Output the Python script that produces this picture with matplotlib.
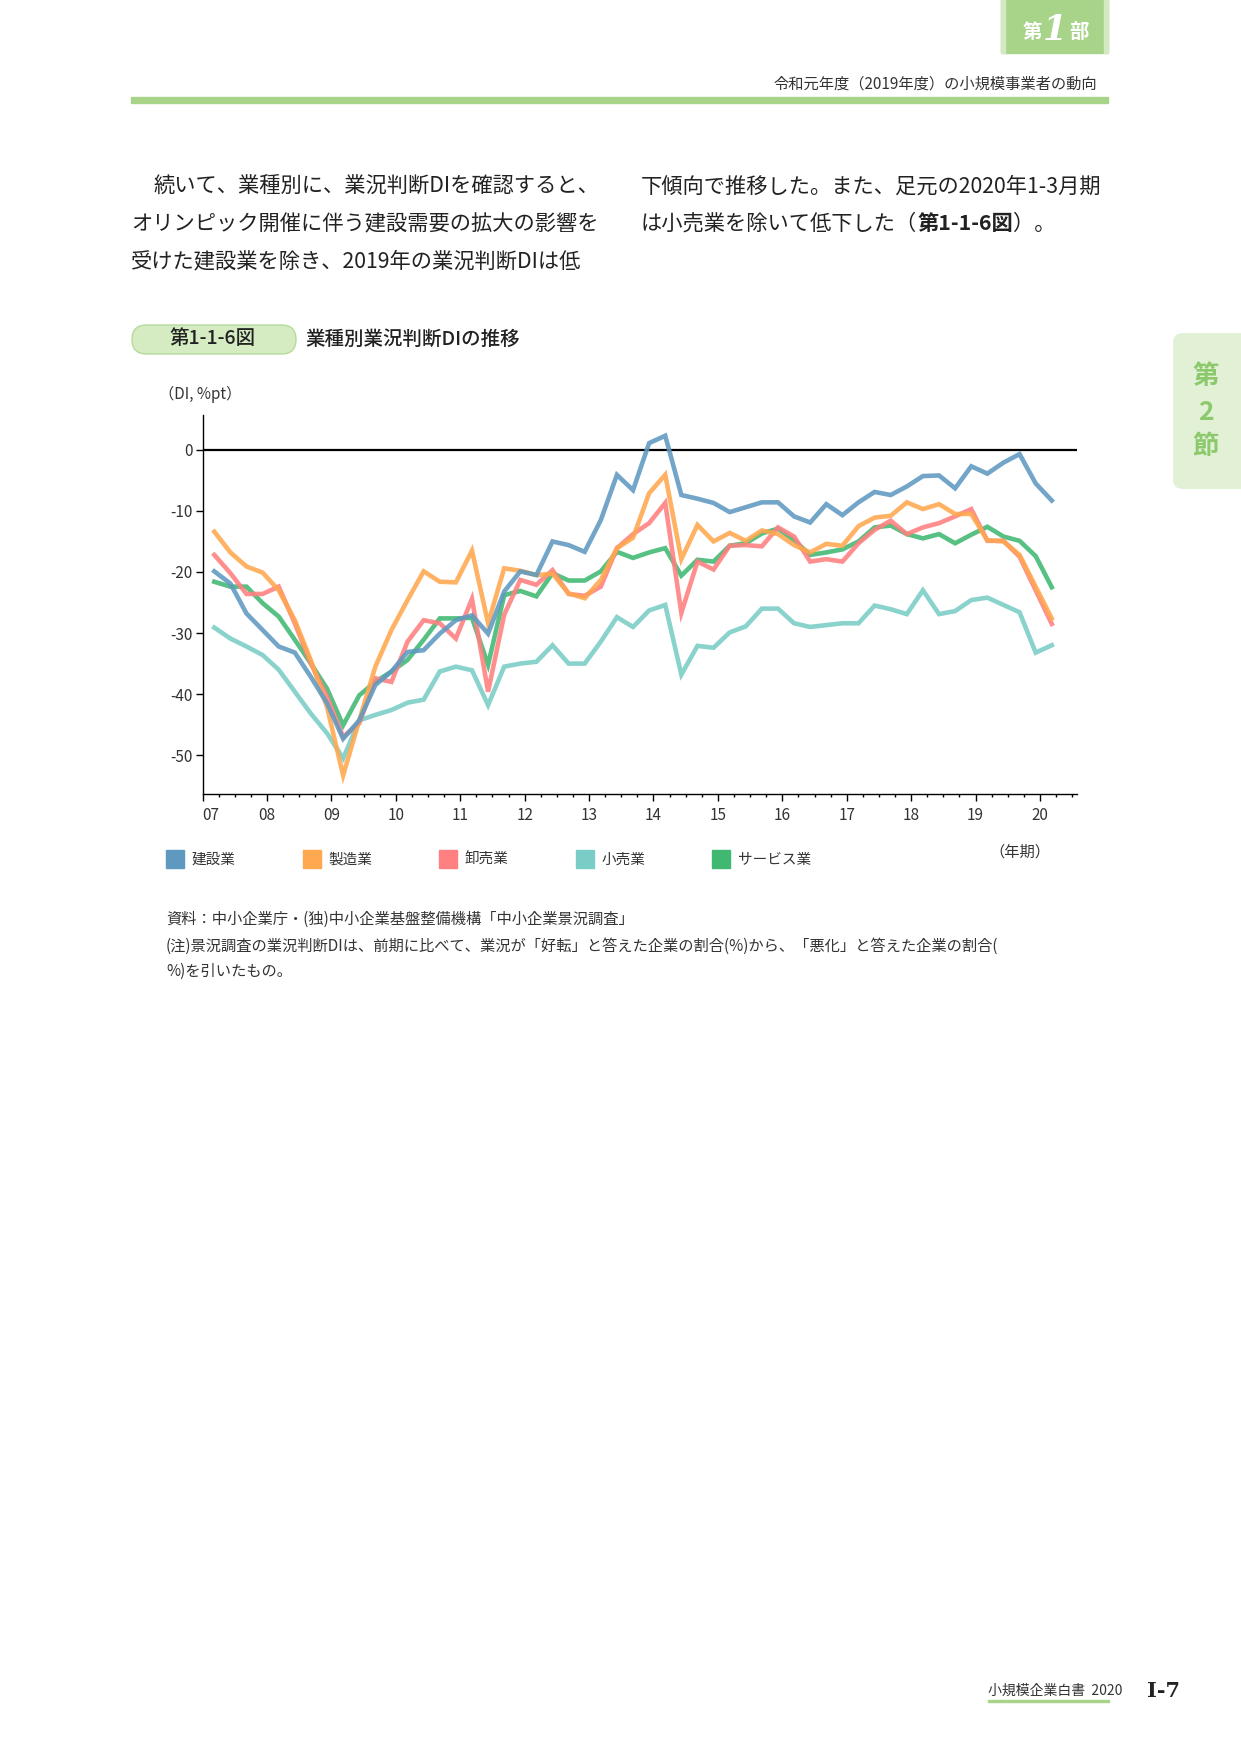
import numpy as np
import matplotlib
matplotlib.use("Agg")
import matplotlib.pyplot as plt
from matplotlib.patches import Rectangle, FancyBboxPatch
from matplotlib.ticker import MultipleLocator, FixedLocator

plt.rcParams['font.family'] = ['Noto Sans CJK JP', 'DejaVu Sans']

# 業況判断DI (quarterly, 2007Q1 - 2020Q1)
years = list(range(2007, 2021))
year_labels = ['07', '08', '09', '10', '11', '12', '13', '14', '15', '16', '17', '18', '19', '20']
names = ['建設業', '製造業', '卸売業', '小売業', 'サービス業']

kensetsu = [-19.9, -21.9, -26.8, -29.5, -32.2, -33.2, -37.2, -41.5, -47.3, -44.3, -38.5, -36.3, -33.1, -32.8, -30.1, -27.9, -27.1,
            -30.1, -23.2, -19.9, -20.5, -15.0, -15.6, -16.7, -11.5, -4.1, -6.6, 1.1, 2.3, -7.4, -8.0, -8.7, -10.2, -9.4, -8.6, -8.6,
            -10.9, -11.9, -8.9, -10.7, -8.6, -6.9, -7.4, -6.0, -4.3, -4.2, -6.3, -2.7, -3.9, -2.1, -0.7, -5.5, -8.3]
seizou = [-13.4, -16.8, -19.1, -20.1, -23.0, -27.9, -34.5, -42.1, -53.3, -44.3, -35.5, -29.5, -24.6, -19.9, -21.6, -21.7, -16.5,
          -28.4, -19.4, -19.8, -20.5, -20.3, -23.5, -24.3, -21.3, -16.1, -14.4, -7.1, -4.1, -17.9, -12.3, -15.0, -13.6, -14.9, -13.2, -13.8,
          -15.6, -16.8, -15.4, -15.7, -12.5, -11.1, -10.8, -8.6, -9.7, -8.9, -10.5, -10.5, -14.8, -15.0, -17.2, -22.4, -27.6]
oroshi = [-17.2, -20.2, -23.6, -23.6, -22.4, -28.4, -35.0, -40.4, -47.0, -44.8, -37.4, -38.0, -31.4, -27.9, -28.4, -30.9, -24.4,
          -39.6, -27.0, -21.3, -22.1, -19.7, -23.6, -23.9, -22.4, -16.1, -13.8, -12.0, -8.7, -26.7, -18.3, -19.6, -15.7, -15.6, -15.8, -12.7,
          -14.2, -18.3, -17.9, -18.3, -15.3, -13.1, -11.6, -13.8, -12.7, -12.0, -10.9, -9.7, -14.9, -14.9, -17.5, -23.0, -28.5]
kouri = [-29.1, -30.9, -32.2, -33.6, -36.0, -39.6, -43.2, -46.4, -50.5, -44.3, -43.4, -42.6, -41.4, -40.9, -36.3, -35.5, -36.1,
         -41.8, -35.5, -35.0, -34.7, -32.0, -35.0, -35.0, -31.4, -27.4, -29.0, -26.3, -25.4, -36.8, -32.1, -32.4, -29.9, -28.9, -26.0, -26.0,
         -28.4, -29.0, -28.7, -28.4, -28.4, -25.5, -26.1, -26.9, -23.0, -26.9, -26.4, -24.6, -24.2, -25.4, -26.6, -33.2, -32.0]
service = [-21.6, -22.4, -22.4, -25.1, -27.3, -31.1, -35.0, -39.1, -45.1, -40.2, -38.0, -36.3, -34.4, -31.1, -27.6, -27.6, -27.5,
           -35.2, -23.8, -23.1, -24.0, -20.2, -21.4, -21.4, -19.9, -16.7, -17.7, -16.8, -16.1, -20.6, -18.0, -18.3, -15.7, -15.3, -13.7, -12.9,
           -14.8, -17.2, -16.8, -16.3, -15.0, -12.7, -12.4, -13.8, -14.5, -13.8, -15.3, -13.9, -12.6, -14.2, -14.9, -17.4, -22.5]

colors = ['#5f99c0', '#ffa84f', '#ff8080', '#7acdc7', '#40b872']
series = [kensetsu, seizou, oroshi, kouri, service]

W, H = 1241, 1754
fig = plt.figure(figsize=(W / 100, H / 100), dpi=100)

# page layer in pixel coords
page = fig.add_axes([0, 0, 1, 1])
page.set_xlim(0, W)
page.set_ylim(H, 0)
page.axis('off')

green = '#a8d48a'
dark = '#333333'

# header tab and bar
page.add_patch(Rectangle((1001, 0), 107, 53, color=green, zorder=1))
page.add_patch(Rectangle((1001, 0), 4, 53, color='#d3e9c2', zorder=2))
page.add_patch(Rectangle((1104, 0), 4, 53, color='#d3e9c2', zorder=2))
page.text(1032, 33, '第', color='white', fontsize=14, fontweight='bold', ha='center', va='center')
page.text(1055, 30, '1', color='white', fontsize=25, fontweight='bold', style='italic',
          family='DejaVu Serif', ha='center', va='center')
page.text(1079, 33, '部', color='white', fontsize=14, fontweight='bold', ha='center', va='center')
page.text(1097, 84, '令和元年度（2019年度）の小規模事業者の動向', fontsize=11, color=dark, ha='right', va='center')
page.add_patch(Rectangle((131, 97), 977, 6, color=green))

# body text
bt = dict(fontsize=15.3, color='#222222', va='center')
page.text(153, 187, '続いて、業種別に、業況判断DIを確認すると、', **bt)
page.text(131, 224, 'オリンピック開催に伴う建設需要の拡大の影響を', **bt)
page.text(131, 261, '受けた建設業を除き、2019年の業況判断DIは低', **bt)
page.text(641, 187, '下傾向で推移した。また、足元の2020年1-3月期', **bt)

renderer = fig.canvas.get_renderer()
inv = page.transData.inverted()
xpos = 641
for part, weight in [('は小売業を除いて低下した（', 'normal'), ('第1-1-6図', 'bold'), ('）。', 'normal')]:
    t = page.text(xpos, 224, part, fontweight=weight, **bt)
    bb = t.get_window_extent(renderer)
    xpos = inv.transform((bb.x1, bb.y0))[0]

# figure title
page.add_patch(FancyBboxPatch((132, 325), 164, 29, boxstyle='round,pad=0,rounding_size=14.5',
                              facecolor='#d5ebc2', edgecolor='#b5db9a', lw=1))
page.text(213, 339, '第1-1-6図', fontsize=14, color='#222222', ha='center', va='center', fontweight='medium')
page.text(305, 339, '業種別業況判断DIの推移', fontsize=14, color='#222222', va='center', fontweight='medium')
page.text(159, 394, '（DI, %pt）', fontsize=11, color=dark, va='center')

# side tab
page.add_patch(FancyBboxPatch((1173, 333), 90, 156, boxstyle='round,pad=0,rounding_size=10',
                              facecolor='#e2f0d6', edgecolor='none'))
for ch, yy in [('第', 377), ('2', 412), ('節', 446)]:
    page.text(1206, yy, ch, fontsize=19, color='#8cc96c', fontweight='bold', ha='center', va='center')

# chart
x = 2007 + np.arange(len(kensetsu)) / 4 + 0.183
ax = fig.add_axes([202.5 / W, 1 - 794.3 / H, (1076.7 - 202.5) / W, (794.3 - 415) / H])
ax.axhline(0, color='black', lw=1.6, zorder=1)
for name, vals, c in zip(names[::-1], series[::-1], colors[::-1]):
    ax.plot(x, vals, color=c, lw=3.3, alpha=0.88, solid_joinstyle='miter', label=name)
ax.set_xlim(2007, 2020.57)
ax.set_ylim(-56.4, 5.7)
ax.set_yticks([0, -10, -20, -30, -40, -50])
ax.set_yticklabels(['0', '-10', '-20', '-30', '-40', '-50'])
ax.xaxis.set_major_locator(FixedLocator(years))
ax.set_xticklabels(year_labels)
ax.xaxis.set_minor_locator(MultipleLocator(0.25))
ax.get_xticklabels()[0].set_ha('left')
ax.tick_params(axis='both', which='major', length=5, width=1, colors='black', labelcolor=dark, labelsize=11)
ax.tick_params(axis='x', which='major', pad=4)
ax.tick_params(axis='y', which='major', pad=2)
ax.tick_params(axis='x', which='minor', length=2.5, width=1)
for s in ['top', 'right']:
    ax.spines[s].set_visible(False)
for s in ['left', 'bottom']:
    ax.spines[s].set_linewidth(1)

# legend
for i, (name, c) in enumerate(zip(names, colors)):
    lx = 166 + i * 136.5
    page.add_patch(Rectangle((lx, 850), 18, 18, color=c))
    page.text(lx + 26, 860, name, fontsize=10.5, color=dark, va='center')
page.text(1050, 852, '（年期）', fontsize=11, color=dark, ha='right', va='center')

# notes
nt = dict(fontsize=11, color=dark, va='center')
page.text(166, 919, '資料：中小企業庁・(独)中小企業基盤整備機構「中小企業景況調査」', **nt)
page.text(166, 946, '(注)景況調査の業況判断DIは、前期に比べて、業況が「好転」と答えた企業の割合(%)から、「悪化」と答えた企業の割合(', **nt)
page.text(166, 971, '%)を引いたもの。', **nt)

# footer
page.text(988, 1691, '小規模企業白書  2020', fontsize=10, color=dark, va='center')
page.add_patch(Rectangle((988, 1700), 121, 1.5, color=green))
page.text(1163, 1691, 'I-7', fontsize=15, fontweight='bold', family='DejaVu Serif', color='#222222',
          ha='center', va='center')

fig.savefig('out.png', dpi=100)
